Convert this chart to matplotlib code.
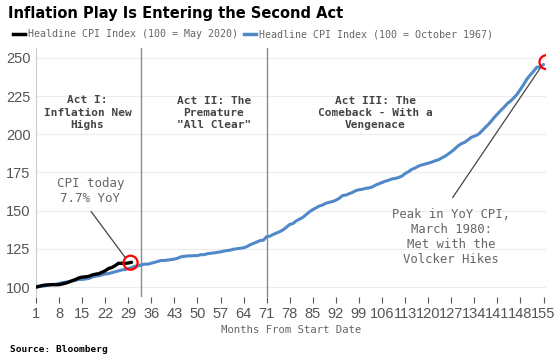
import matplotlib
matplotlib.use("Agg")
import matplotlib.pyplot as plt
from matplotlib.lines import Line2D
from matplotlib.patches import Ellipse

# Headline CPI, 100 = May 2020 (months 1..30)
cpi_2020 = [100.0, 100.55, 101.06, 101.37, 101.52, 101.56, 101.50, 101.59,
            102.02, 102.58, 103.31, 104.16, 104.99, 105.97, 106.48, 106.70,
            106.99, 107.88, 108.41, 108.74, 109.66, 110.66, 112.14, 112.76,
            114.00, 115.57, 115.56, 115.52, 115.76, 116.23]

# Headline CPI, 100 = October 1967 (months 1..155)
cpi_1967 = [100.0, 100.3, 100.6, 100.9, 101.2, 101.8, 101.8, 102.4, 102.9, 103.2,
            103.5, 104.1, 104.4, 105.0, 105.0,
            105.3, 105.6, 106.5, 107.1, 107.4, 108.0, 108.6, 108.8, 109.4, 110.0, 110.6, 111.2,
            111.5, 112.1, 112.7, 113.6, 113.9, 114.5, 115.0, 115.0, 115.6, 116.2, 116.8, 117.4,
            117.4, 117.7, 118.0, 118.3, 118.9, 119.8, 120.1, 120.4, 120.4, 120.6, 120.6, 121.2,
            121.2, 121.8, 122.1, 122.4, 122.7, 123.0, 123.6, 123.9, 124.2, 124.8, 125.1, 125.4,
            125.7, 126.5, 127.7, 128.6, 129.5, 130.4, 130.7, 133.0, 133.3, 134.5, 135.4, 136.3,
            137.5, 139.2, 141.0, 141.6, 143.4, 144.5, 145.7, 147.5, 149.3, 150.7, 151.9, 153.1,
            153.7, 154.9, 155.5, 156.0, 156.9, 158.1, 159.9, 160.2, 161.1, 161.9, 163.1, 163.7,
            164.0, 164.6, 164.9, 165.5, 166.7, 167.6, 168.4, 169.3, 169.9, 170.8, 171.1, 171.7,
            172.6, 174.3, 175.5, 177.0, 177.9, 179.1, 179.9, 180.5, 181.1, 181.7, 182.6, 183.2,
            184.4, 185.5, 187.0, 188.5, 190.3, 192.3, 193.8, 194.7, 196.2, 197.9, 198.8, 199.7,
            201.5, 203.8, 205.9, 208.3, 210.9, 213.3, 215.6, 217.7, 220.1, 221.8, 223.9, 226.3,
            229.5, 232.7, 236.3, 238.9, 241.3, 244.0, 244.0, 245.7]

months_2020 = list(range(1, len(cpi_2020) + 1))
months_1967 = list(range(1, len(cpi_1967) + 1))
x_ticks = list(range(1, 156, 7))
y_ticks = [100, 125, 150, 175, 200, 225, 250]
act_breaks = [33, 71]

blue = '#5088c8'
grey_txt = '#666666'
mono = 'DejaVu Sans Mono'

fig = plt.figure(figsize=(5.57, 3.58), dpi=100)
ax = fig.add_axes([0.0646, 0.1704, 0.9154, 0.6956])

ax.plot(months_1967, cpi_1967, color=blue, lw=2.2, solid_capstyle='round', zorder=3)
ax.plot(months_2020, cpi_2020, color='black', lw=2.4, solid_capstyle='round', zorder=4)

for b in act_breaks:
    ax.axvline(b, color='#8a8a8a', lw=1.0, zorder=2)

ax.set_xlim(1, 155.7)
ax.set_ylim(93.5, 256.5)
ax.set_xticks(x_ticks)
ax.set_yticks(y_ticks)
ax.tick_params(axis='x', direction='out', length=4, color='#555555', pad=3,
               labelsize=10.5, labelcolor='#555555')
ax.tick_params(axis='y', length=0, pad=4, labelsize=10.5, labelcolor='#555555')
for lab in ax.get_xticklabels() + ax.get_yticklabels():
    lab.set_fontfamily('Liberation Sans')
ax.grid(axis='y', color='#ececec', lw=0.8, zorder=0)
for s in ['top', 'right', 'bottom']:
    ax.spines[s].set_visible(False)
ax.spines['left'].set_color('#cccccc')

ax.set_xlabel('Months From Start Date', family=mono, fontsize=7.7, color=grey_txt, labelpad=3)

# act labels
act_kw = dict(family=mono, fontsize=8, fontweight='bold', color='#444444',
              ha='center', va='center', linespacing=1.3)
ax.text(16.6, 214, 'Act I:\nInflation New\nHighs', **act_kw)
ax.text(55, 214, 'Act II: The\nPremature\n"All Clear"', **act_kw)
ax.text(104, 214, 'Act III: The\nComeback - With a\nVengenace', **act_kw)

# annotations
ax.text(17.5, 163, 'CPI today\n7.7% YoY', family=mono, fontsize=9, color=grey_txt,
        ha='center', va='center', linespacing=1.2)
ax.annotate('', xy=(28.2, 119), xytext=(17.7, 149.5),
            arrowprops=dict(arrowstyle='-', color='#444444', lw=0.9, shrinkA=0, shrinkB=0))
ax.text(127, 133, 'Peak in YoY CPI,\nMarch 1980:\nMet with the\nVolcker Hikes',
        family=mono, fontsize=8.8, color=grey_txt, ha='center', va='center',
        linespacing=1.2)
ax.annotate('', xy=(154.2, 244), xytext=(127.4, 158.5),
            arrowprops=dict(arrowstyle='-', color='#444444', lw=0.9, shrinkA=0, shrinkB=0))

# red highlight circles (about 7 px radius)
rx, ry = 7 / 3.29, 7 / 1.528
ax.add_patch(Ellipse((months_2020[-1] - 0.3, cpi_2020[-1] - 0.3), 2 * rx, 2 * ry, fill=False,
                     ec='red', lw=1.6, zorder=5))
ax.add_patch(Ellipse((months_1967[-1] + 0.9, cpi_1967[-1] + 1.5), 2 * rx, 2 * ry, fill=False,
                     ec='red', lw=1.6, zorder=5, clip_on=True))

fig.text(0.014, 0.962, 'Inflation Play Is Entering the Second Act', fontsize=10.5,
         fontweight='bold', color='black', ha='left', va='center')

handles = [Line2D([], [], color='black', lw=2.5), Line2D([], [], color=blue, lw=2.5)]
fig.legend(handles, ['Healdine CPI Index (100 = May 2020)',
                     'Headline CPI Index (100 = October 1967)'],
           loc='center left', bbox_to_anchor=(0.016, 0.905), ncol=2, frameon=False,
           handlelength=1.2, handletextpad=0.3, columnspacing=0.6,
           prop={'family': mono, 'size': 7.2}, labelcolor=grey_txt, borderaxespad=0)

fig.text(0.018, 0.025, 'Source: Bloomberg', family=mono, fontsize=6.8,
         fontweight='bold', color='black', ha='left', va='center')

fig.savefig('out.png', dpi=100)
